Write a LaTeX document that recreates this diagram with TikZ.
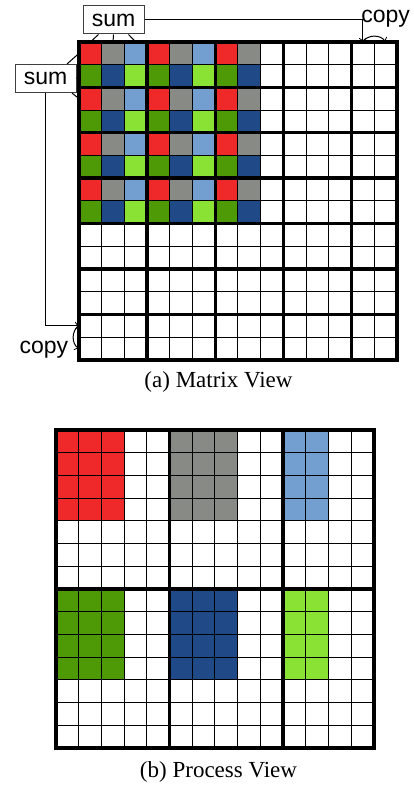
\documentclass[tikz,border=0pt]{standalone}
\usepackage{fontspec}
\setmainfont{Liberation Serif}
\setsansfont{Liberation Sans}

\definecolor{cellred}{HTML}{EF2929}
\definecolor{cellgray}{HTML}{888A85}
\definecolor{cellblue}{HTML}{729FCF}
\definecolor{cellgreen}{HTML}{4E9A06}
\definecolor{celldblue}{HTML}{204A87}
\definecolor{celllgreen}{HTML}{8AE234}

\tikzset{
  cellline/.style={line width=0.5pt},
  blockline/.style={line width=1.7pt},
  frameline/.style={line width=2pt},
  link/.style={line width=0.5pt},
  sumbox/.style={draw=black!75, line width=0.5pt, fill=white, minimum width=30.5pt,
    minimum height=14pt, inner sep=0pt, font=\sffamily\fontsize{11.5}{13}\selectfont},
  copylabel/.style={inner sep=0pt, font=\sffamily\fontsize{11.5}{13}\selectfont},
  subcap/.style={inner sep=0pt, font=\fontsize{11.5}{13}\selectfont}
}

\begin{document}
\begin{tikzpicture}[x=0.5pt, y=-0.5pt]
  \useasboundingbox (0,0) rectangle (413,785);

  % (a) matrix view
  \begin{scope}[shift={(79,42)}, x=11.35pt, y=-11.35pt]
    \foreach \c/\ctop/\cbot in {0/cellred/cellgreen, 1/cellgray/celldblue, 2/cellblue/celllgreen,
        3/cellred/cellgreen, 4/cellgray/celldblue, 5/cellblue/celllgreen,
        6/cellred/cellgreen, 7/cellgray/celldblue}
      \foreach \r in {0,2,4,6} {
        \fill[\ctop] (\c,\r) rectangle ++(1,1);
        \fill[\cbot] (\c,\r+1) rectangle ++(1,1);
      }
    \foreach \i in {1,...,13}
      \draw[cellline] (\i,0) -- (\i,14) (0,\i) -- (14,\i);
    \foreach \i in {3,6,9,12}
      \draw[blockline] (\i,0) -- (\i,14);
    \foreach \i in {2,4,...,12}
      \draw[blockline] (0,\i) -- (14,\i);
    \draw[frameline] (0,0) rectangle (14,14);
    \coordinate (col1) at (0.5,0);
    \coordinate (col2) at (1.5,0);
    \coordinate (col3) at (2.5,0);
    \coordinate (col13) at (12.5,0);
    \coordinate (col14) at (13.5,0);
    \coordinate (row1) at (0,0.5);
    \coordinate (row2) at (0,1.5);
    \coordinate (row3) at (0,2.5);
    \coordinate (row13) at (0,12.5);
    \coordinate (row14) at (0,13.5);
  \end{scope}

  % (b) process view
  \begin{scope}[shift={(56,430)}, x=11.35pt, y=-11.35pt]
    \foreach \cx/\ry/\w/\fc in {0/0/3/cellred, 5/0/3/cellgray, 10/0/2/cellblue,
        0/7/3/cellgreen, 5/7/3/celldblue, 10/7/2/celllgreen}
      \fill[\fc] (\cx,\ry) rectangle ++(\w,4);
    \foreach \i in {1,...,13}
      \draw[cellline] (\i,0) -- (\i,14) (0,\i) -- (14,\i);
    \foreach \i in {5,10}
      \draw[blockline] (\i,0) -- (\i,14);
    \draw[blockline] (0,7) -- (14,7);
    \draw[frameline] (0,0) rectangle (14,14);
  \end{scope}

  \node[sumbox] (sumtop) at (113.5,20) {sum};
  \node[sumbox] (sumleft) at (45.5,78.5) {sum};

  \draw[link] ([xshift=-7.5pt]sumtop.south) -- (col1);
  \draw[link] (sumtop.south) -- (col2);
  \draw[link] ([xshift=7.5pt]sumtop.south) -- (col3);
  \draw[link] ([xshift=10.75pt]sumleft.north) -- (row1);
  \draw[link] (sumleft.east) -- (row2);
  \draw[link] ([xshift=13.25pt]sumleft.south) -- (row3);

  \draw[link, ->] (sumtop.east) -| (col13);
  \draw[link, ->] (col13) to[bend left=60] (col14);
  \node[copylabel, anchor=base west] (copytop) at (361,22.5) {copy};

  \draw[link, ->] (sumleft.south) |- (row13);
  \draw[link, ->] (row13) to[bend right=60] (row14);
  \node[copylabel, anchor=base east] (copyleft) at (68.5,353) {copy};

  \node[subcap, anchor=base] (capa) at (218.5,387.5) {(a) Matrix View};
  \node[subcap, anchor=base] (capb) at (218.5,777) {(b) Process View};
\end{tikzpicture}
\end{document}
